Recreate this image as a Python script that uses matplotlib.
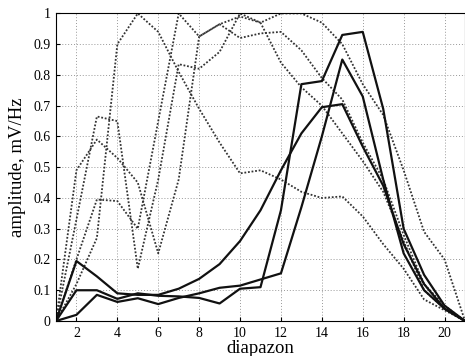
import matplotlib
matplotlib.use('Agg')
import matplotlib.pyplot as plt
import numpy as np

plt.rcParams['font.family'] = ['Liberation Serif', 'DejaVu Serif']

diapazon = list(range(1, 22))

# solid curves
solid_1 = [0, 0.195, 0.145, 0.09, 0.085, 0.085, 0.105, 0.137, 0.185, 0.26, 0.36,
           0.49, 0.61, 0.695, 0.705, 0.567, 0.44, 0.25, 0.12, 0.04, 0]
solid_2 = [0, 0.1, 0.1, 0.072, 0.09, 0.082, 0.08, 0.075, 0.057, 0.105, 0.11,
           0.36, 0.77, 0.78, 0.93, 0.94, 0.69, 0.30, 0.15, 0.05, 0]
solid_3 = [0, 0.02, 0.085, 0.062, 0.074, 0.055, 0.075, 0.09, 0.108, 0.115, 0.135,
           0.155, 0.37, 0.60, 0.85, 0.73, 0.46, 0.22, 0.10, 0.04, 0]

# dotted curves
dotted_1 = [0, 0.49, 0.59, 0.53, 0.45, 0.22, 0.46, 0.925, 0.965, 0.92, 0.935,
            0.94, 0.88, 0.79, 0.72, 0.58, 0.46, 0.28, 0.12, 0.05, 0]
dotted_2 = [0, 0.33, 0.665, 0.65, 0.17, 0.46, 0.835, 0.82, 0.875, 1.0, 0.97,
            0.84, 0.76, 0.70, 0.61, 0.52, 0.42, 0.26, 0.10, 0.04, 0]
dotted_3 = [0, 0.2, 0.395, 0.39, 0.30, 0.65, 1.0, 0.925, 0.965, 0.99, 0.97,
            1.0, 1.0, 0.97, 0.90, 0.77, 0.67, 0.49, 0.29, 0.20, 0]
dotted_4 = [0, 0.12, 0.27, 0.9, 1.0, 0.94, 0.81, 0.69, 0.58, 0.48, 0.49,
            0.46, 0.42, 0.40, 0.405, 0.34, 0.25, 0.17, 0.07, 0.035, 0]

fig = plt.figure(figsize=(4.65, 3.56), dpi=100)
ax = fig.add_axes([0.1204, 0.0983, 0.8796, 0.864])

for ys in [dotted_1, dotted_2, dotted_3, dotted_4]:
    ax.plot(diapazon, ys, color='#333333', linestyle=(0, (1, 1)), linewidth=1.3)
for ys in [solid_1, solid_2, solid_3]:
    ax.plot(diapazon, ys, color='#111111', linestyle='-', linewidth=1.6)

ax.set_xlim(1, 21)
ax.set_ylim(0, 1)
ax.set_xticks(range(2, 21, 2))
ax.set_yticks(np.arange(0, 1.01, 0.1))
ax.set_yticklabels(['0', '0.1', '0.2', '0.3', '0.4', '0.5', '0.6', '0.7', '0.8', '0.9', '1'])
ax.tick_params(direction='in', labelsize=10, length=3, pad=4)
ax.grid(True, linestyle=(0, (1, 2)), color='#999999', linewidth=0.7)
ax.set_xlabel('diapazon', fontsize=13.5, labelpad=0)
ax.set_ylabel('amplitude, mV/Hz', fontsize=13.5, labelpad=5)

fig.savefig('out.png', dpi=100)
